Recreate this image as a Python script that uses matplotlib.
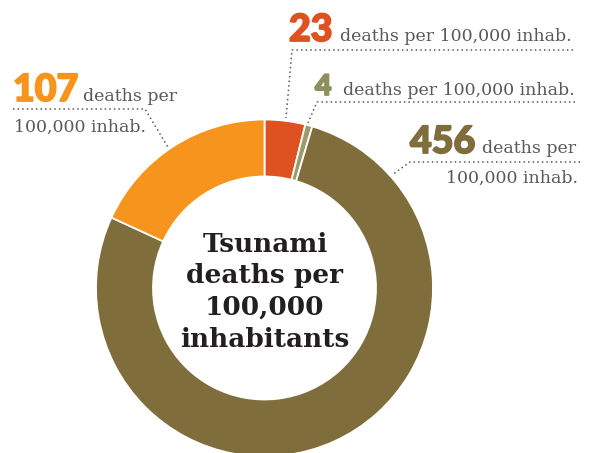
import matplotlib.pyplot as plt
import matplotlib.patheffects as pe

# data, clockwise from the top
values = [23, 4, 456, 107]
numbers = ["23", "4", "456", "107"]
colors = ["#DD5220", "#9C9A6A", "#806D3C", "#F7941D"]
title_lines = ["Tsunami", "deaths per", "100,000", "inhabitants"]

W, H = 590, 453
GRAY = "#58595B"
DARK = "#231F20"


def Y(y):
    # pixel rows from the top -> data y
    return H - y


def bold_num(x, y, s, size, color):
    t = ax.text(x, Y(y), s, fontsize=size, color=color, fontfamily="Lato",
                fontweight="black", va="baseline")
    t.set_path_effects([pe.withStroke(linewidth=1.3, foreground=color)])


fig = plt.figure(figsize=(W / 100, H / 100), dpi=100)
ax = fig.add_axes([0, 0, 1, 1])

ax.pie(values, colors=colors, startangle=90, counterclock=False,
       center=(264.5, Y(288)), radius=168.5,
       wedgeprops=dict(width=57, edgecolor="white", linewidth=1.3))
ax.set_xlim(0, W)
ax.set_ylim(0, H)
ax.set_aspect("equal")
ax.axis("off")

# centre title
for line, yb in zip(title_lines, [252, 283, 315, 347]):
    ax.text(265, Y(yb), line, ha="center", va="baseline", fontsize=19,
            fontfamily="DejaVu Serif", fontweight="bold", color=DARK)

lab_kw = dict(fontfamily="DejaVu Serif", fontsize=12.5, color=GRAY, va="baseline")
dot_kw = dict(color=GRAY, linewidth=1.1, linestyle=(0, (1, 2)))

# 107
bold_num(13, 101, numbers[3], 27, colors[3])
ax.text(83, Y(101), "deaths per", **lab_kw)
ax.text(14, Y(132), "100,000 inhab.", **lab_kw)
ax.plot([13, 145, 169], [Y(109), Y(109), Y(149)], **dot_kw)

# 23
bold_num(289, 41, numbers[0], 27, colors[0])
ax.text(340, Y(41), "deaths per 100,000 inhab.", **lab_kw)
ax.plot([573, 292, 286], [Y(50), Y(50), Y(118)], **dot_kw)

# 4
bold_num(315, 95, numbers[1], 20.5, "#8F8F5E")
ax.text(343, Y(95), "deaths per 100,000 inhab.", **lab_kw)
ax.plot([575, 317, 308], [Y(102), Y(102), Y(123)], **dot_kw)

# 456
bold_num(410, 153, numbers[2], 27, colors[2])
ax.text(482, Y(153), "deaths per", **lab_kw)
ax.text(578, Y(183), "100,000 inhab.", ha="right", **lab_kw)
ax.plot([580, 410, 392], [Y(162), Y(162), Y(175)], **dot_kw)

fig.savefig("out.png", dpi=100)
